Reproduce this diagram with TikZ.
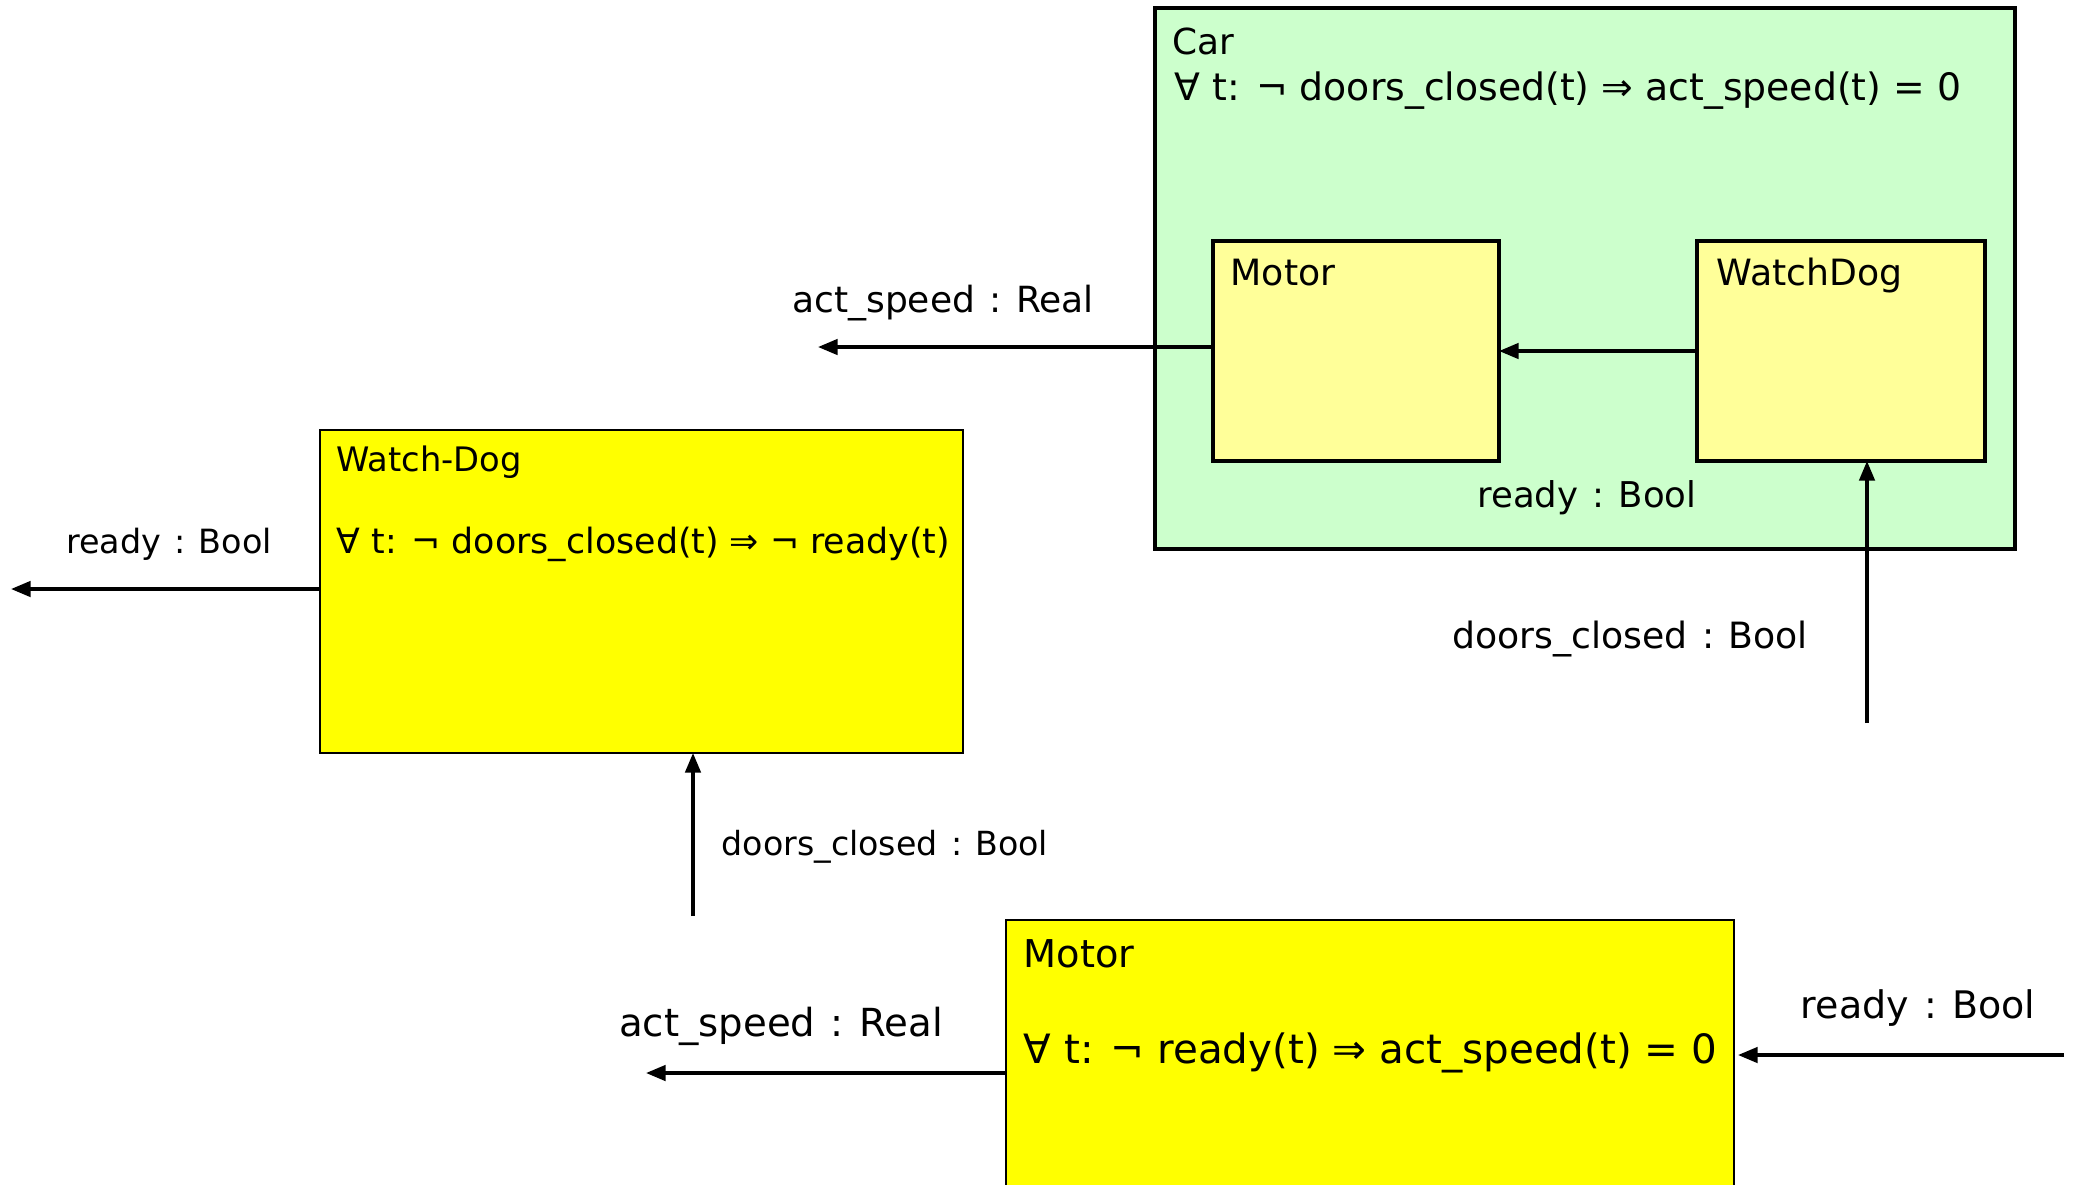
\documentclass[tikz,border=0pt]{standalone}
\usepackage{fontspec}
\setmainfont{DejaVu Sans}
\usetikzlibrary{arrows.meta, positioning, calc}

\definecolor{carbg}{HTML}{CCFFCC}
\definecolor{partbg}{HTML}{FFFF99}
\definecolor{specbg}{HTML}{FFFF00}

\newcommand\txtsize[1]{\fontsize{#1}{#1}\selectfont}
\newcommand\portsig[2]{#1\hspace{0.4em}:\hspace{0.4em}#2}

\begin{document}
\begin{tikzpicture}[
        x=0.1mm, y=-0.1mm,
        box/.style={rectangle, draw, inner sep=0pt, outer sep=0pt, anchor=north west},
        carbox/.style={box, line width=1pt, fill=carbg},
        partbox/.style={box, line width=0.9pt, fill=partbg},
        specbox/.style={box, line width=0.45pt, fill=specbg},
        boxtitle/.style={anchor=base west, inner sep=0pt},
        sigtext/.style={anchor=base, inner sep=0pt},
        flow/.style={-{Triangle[length=5.6pt, width=4.4pt]}, line width=0.95pt}
    ]
        \clip (0,0) rectangle (2076,1184);

        % composed car with its two parts
        \node[carbox, minimum width=86mm, minimum height=54.1mm] (car) at (1155,8) {};
        \node[boxtitle, font=\txtsize{10.2}] (carname) at (1172,54) {Car};
        \node[boxtitle, font=\txtsize{10.75}] (carspec) at (1174,100) {∀ t: ¬ doors\_closed(t) ⇒ act\_speed(t) = 0};
        \node[partbox, minimum width=28.6mm, minimum height=22mm] (motorIn) at (1213,241) {};
        \node[boxtitle, font=\txtsize{10.3}] (motorInName) at (1230,285) {Motor};
        \node[partbox, minimum width=28.8mm, minimum height=22mm] (wdIn) at (1697,241) {};
        \node[boxtitle, font=\txtsize{10.3}] (wdInName) at (1716,285) {WatchDog};

        % the two components on their own
        \node[specbox, minimum width=64.3mm, minimum height=32.3mm] (watchdog) at (320,430) {};
        \node[boxtitle, font=\txtsize{9.6}] (watchdogName) at (336,471) {Watch-Dog};
        \node[boxtitle, font=\txtsize{9.9}] (watchdogSpec) at (336,553) {∀ t: ¬ doors\_closed(t) ⇒ ¬ ready(t)};
        \node[specbox, minimum width=72.8mm, minimum height=40mm] (motor) at (1006,920) {};
        \node[boxtitle, font=\txtsize{10.9}] (motorName) at (1023,967) {Motor};
        \node[boxtitle, font=\txtsize{11.5}] (motorSpec) at (1023,1063) {∀ t: ¬ ready(t) ⇒ act\_speed(t) = 0};

        % free ends of the ports
        \coordinate (carAct) at (818,347);
        \coordinate (carDoors) at (1867,723);
        \coordinate (wdReady) at (11,589);
        \coordinate (wdDoors) at (693,916);
        \coordinate (motorAct) at (646,1073);
        \coordinate (motorReady) at (2064,1055);

        \draw[flow] (motorIn.west |- carAct) -- (carAct);
        \draw[flow] (wdIn.west) -- (motorIn.east);
        \draw[flow] (carDoors) -- (carDoors |- wdIn.south);
        \draw[flow] (watchdog.west |- wdReady) -- (wdReady);
        \draw[flow] (wdDoors) -- (wdDoors |- watchdog.south);
        \draw[flow] (motor.west |- motorAct) -- (motorAct);
        \draw[flow, shorten >=0.4mm] (motorReady) -- (motor.east |- motorReady);

        % signal names
        \node[sigtext, font=\txtsize{10.25}] (carActSig) at (943,312) {\portsig{act\_speed}{Real}};
        \node[sigtext, font=\txtsize{10.1}] (carReadySig) at (1587,507) {\portsig{ready}{Bool}};
        \node[sigtext, font=\txtsize{10.3}] (carDoorsSig) at (1630,648) {\portsig{doors\_closed}{Bool}};
        \node[sigtext, font=\txtsize{9.5}] (wdReadySig) at (169,553) {\portsig{ready}{Bool}};
        \node[sigtext, font=\txtsize{9.45}] (wdDoorsSig) at (885,855) {\portsig{doors\_closed}{Bool}};
        \node[sigtext, font=\txtsize{11}] (motorActSig) at (781,1036) {\portsig{act\_speed}{Real}};
        \node[sigtext, font=\txtsize{10.8}] (motorReadySig) at (1918,1018) {\portsig{ready}{Bool}};
\end{tikzpicture}
\end{document}
